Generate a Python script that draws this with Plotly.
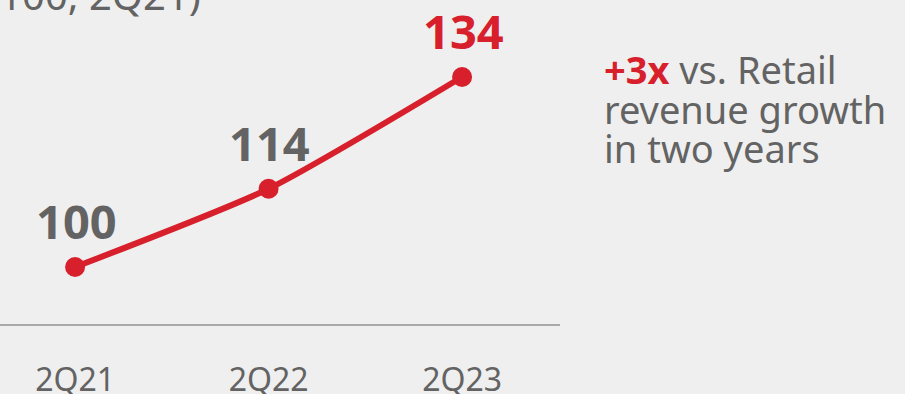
import plotly.graph_objects as go

periods = ["2Q21", "2Q22", "2Q23"]
index_values = [100, 114, 134]
label_colors = ["#636363", "#636363", "#d7202b"]

RED = "#d7202b"
GRAY = "#636363"
FONT = "Noto Sans"

W, H = 905, 394
xpos = list(range(len(periods)))

fig = go.Figure()
fig.add_trace(go.Scatter(
    x=xpos, y=index_values, mode="lines+markers",
    line=dict(color=RED, width=6, shape="spline", smoothing=0.6),
    marker=dict(color=RED, size=20),
    hoverinfo="skip", showlegend=False,
))

for xi, v, c in zip(xpos, index_values, label_colors):
    fig.add_annotation(
        x=xi, y=v, xref="x", yref="y", text=f"<b>{v}</b>",
        showarrow=False, yshift=46, xshift=1,
        font=dict(family=FONT, size=47, color=c),
    )

# right-side commentary
lines = ['<b><span style="color:%s">+3x</span></b> vs. Retail' % RED,
         "revenue growth", "in two years"]
tops = [41, 81, 120]
for t, ytop in zip(lines, tops):
    fig.add_annotation(
        x=602 / W, y=1 - ytop / H, xref="paper", yref="paper",
        xanchor="left", yanchor="top", text=t, showarrow=False,
        font=dict(family=FONT, size=38, color=GRAY),
    )

# cropped subtitle at top-left
fig.add_annotation(
    x=203 / W, y=1 - 24 / H, xref="paper", yref="paper",
    xanchor="right", yanchor="bottom", text="(Index 100, 2Q21)",
    showarrow=False, font=dict(family=FONT, size=40, color=GRAY),
)

fig.update_layout(
    width=W, height=H,
    margin=dict(l=0, r=0, t=0, b=0),
    paper_bgcolor="#efefef", plot_bgcolor="#efefef",
    xaxis=dict(
        domain=[0, 560 / W], range=[-0.388, 2.506],
        tickvals=xpos, ticktext=periods, automargin=False,
        showgrid=False, zeroline=False,
        showline=True, linecolor="#a9a9a9", linewidth=2,
        ticks="", ticklabelstandoff=27,
        tickfont=dict(family=FONT, size=32, color=GRAY),
    ),
    yaxis=dict(
        domain=[(H - 324) / H, 1], range=[89.8, 147.78],
        visible=False, automargin=False,
    ),
)

fig.write_html("out.html")
